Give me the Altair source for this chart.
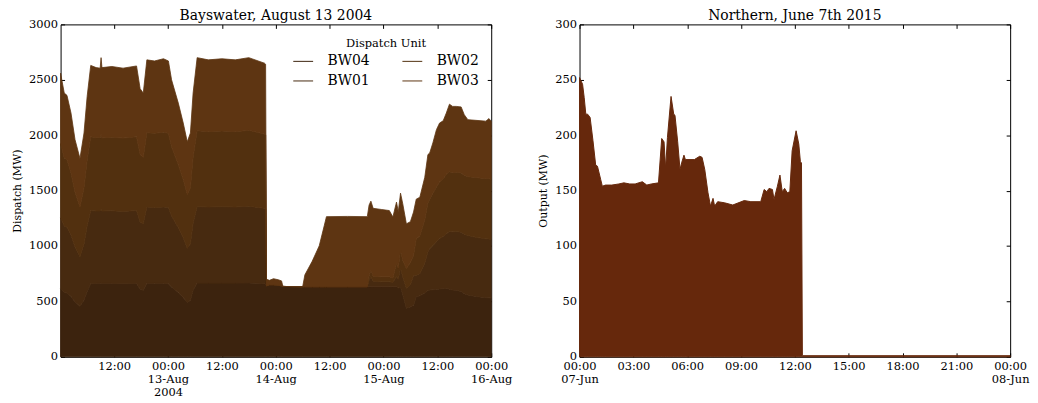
"""Bayswater dispatch and Northern output, two area panels side by side."""

from __future__ import annotations

import altair as alt
import pandas as pd

# Bayswater, hours after 2004-08-12 00:00
BAYSWATER_HOURS = [
    0.08, 0.9, 1.5, 2.4, 3.3, 4.4, 5.3, 6.0, 6.8, 8.0,
    8.9, 9.1, 9.3, 11.5, 14.0, 17.0, 17.8, 18.5, 19.3, 21.0,
    23.0, 24.1, 24.8, 26.3, 27.4, 28.3, 29.0, 29.6, 30.5, 33.0,
    36.0, 39.0, 42.0, 45.5, 45.75,
    45.95, 46.6, 47.5, 48.6, 49.3, 49.6, 54.0, 54.5, 56.1, 57.7,
    58.8, 59.3, 64.0, 68.4, 68.8, 69.2, 69.7, 71.5, 73.3, 74.1,
    74.9, 75.3, 75.8, 76.3, 77.1, 78.0, 78.7, 79.3, 80.1, 81.2,
    81.9, 82.3, 83.0, 83.8, 84.5, 85.3, 86.0, 86.7, 87.4, 88.2,
    89.3, 90.0, 90.8, 92.6, 94.8, 95.5, 96.0,
]
BW04 = [
    615, 580, 575, 545, 495, 456, 510, 590, 660, 662,
    662, 665, 662, 662, 660, 662, 610, 600, 662, 662,
    662, 660, 630, 580, 535, 490, 510, 600, 665, 665,
    665, 665, 667, 660, 655,
    640, 650, 650, 645, 640, 635, 632, 632, 632, 632,
    632, 632, 632, 632, 632, 632, 632, 632, 632, 632,
    632, 620, 630, 560, 439, 450, 466, 543, 550, 575,
    598, 603, 605, 608, 612, 615, 618, 610, 603, 600,
    590, 570, 558, 545, 534, 532, 530,
]
BW01 = [
    640, 600, 595, 555, 495, 448, 505, 590, 660, 654,
    654, 665, 654, 656, 652, 658, 605, 600, 690, 685,
    690, 688, 640, 585, 540, 490, 510, 605, 690, 687,
    690, 687, 692, 680, 680,
    0, 0, 0, 0, 0, 0, 0, 0, 0, 0,
    0, 0, 0, 0, 60, 90, 50, 45, 45, 40,
    90, 80, 170, 160, 180, 200, 268, 194, 200, 270,
    350, 373, 400, 430, 455, 470, 492, 520, 525, 530,
    535, 537, 537, 533, 531, 532, 530,
]
BW02 = [
    670, 615, 610, 560, 495, 448, 510, 595, 665, 662,
    662, 680, 660, 664, 662, 665, 610, 600, 671, 670,
    675, 670, 625, 570, 525, 485, 505, 595, 685, 680,
    683, 680, 685, 670, 668,
    0, 0, 0, 0, 0, 0, 0, 0, 0, 0,
    0, 0, 0, 0, 40, 60, 45, 45, 45, 40,
    120, 100, 160, 150, 178, 200, 180, 328, 340, 390,
    440, 447, 470, 495, 510, 520, 537, 540, 534, 535,
    535, 532, 531, 540, 543, 545, 540,
]
BW03 = [
    635, 585, 580, 540, 475, 438, 495, 575, 645, 632,
    627, 690, 634, 638, 631, 640, 595, 580, 657, 653,
    663, 652, 605, 555, 510, 475, 495, 580, 660, 648,
    652, 648, 656, 640, 637,
    60, 40, 55, 50, 45, 0, 0, 108, 228, 370,
    550, 633, 635, 633, 638, 623, 613, 608, 598, 550,
    554, 510, 517, 510, 403, 370, 393, 358, 350, 385,
    437, 417, 455, 517, 533, 525, 553, 610, 598, 595,
    595, 546, 514, 516, 519, 541, 525,
]
# bottom of the stack first; the legend fills column by column in this order
STACK_ORDER = ["BW04", "BW01", "BW02", "BW03"]
STACK_COLORS = ["#3c230e", "#472a10", "#52300f", "#5e3512"]

# Northern, hours after 2015-06-07 00:00
NORTHERN_HOURS = [
    0.0, 0.17, 0.26, 0.35, 0.45, 0.59, 0.75, 0.9, 1.0, 1.18,
    1.27, 1.45, 1.8, 2.19, 2.47, 2.8, 3.1, 3.5, 3.75, 4.0,
    4.4, 4.58, 4.71, 4.8, 4.9, 5.1, 5.25, 5.32, 5.47, 5.6,
    5.69, 5.82, 5.9, 6.4, 6.7, 6.83, 6.98, 7.16, 7.3, 7.44,
    7.53, 7.7, 8.08, 8.54, 9.18, 9.55, 10.1, 10.29, 10.44, 10.56,
    10.75, 10.84, 11.03, 11.17, 11.3, 11.43, 11.58, 11.72, 11.85, 12.07,
    12.22, 12.31, 12.37, 12.42, 24.0,
]
NORTHERN_MW = [
    252, 246, 234, 219, 219, 216, 195, 173, 172, 160,
    154, 155, 155, 156, 157, 156, 156, 158, 155, 156,
    157, 197, 194, 170, 198, 235, 219, 218, 194, 169,
    175, 182, 178, 178, 181, 180, 169, 148, 136, 143,
    136, 140, 139, 137, 141, 140, 140, 151, 149, 152,
    151, 142, 154, 164, 149, 152, 148, 149, 186, 204,
    192, 176, 175, 1, 1,
]
NORTHERN_COLOR = "#66280c"

FONT = "DejaVu Serif"
HOUR_MS = 3_600_000
TICK = 4
PANEL_W = 434
PANEL_H = 335


def _ms(start: str, hours: float) -> int:
    return pd.Timestamp(start, tz="UTC").value // 10**6 + round(hours * HOUR_MS)


def _bottom_axis(ticks: list[int], label_expr: str) -> alt.Axis:
    return alt.Axis(
        values=ticks, labelExpr=label_expr, tickSize=TICK, offset=-TICK, domain=False,
        labelPadding=4, labelBaseline="top", labelLineHeight=13, labelFlush=False,
        labelOverlap=False, grid=False, title=None,
    )


def _left_axis(ticks: list[int], title: str) -> alt.Axis:
    return alt.Axis(
        values=ticks, format="d", tickSize=TICK, offset=-TICK, domain=False,
        labelPadding=3, grid=False, title=title, titlePadding=6.5,
    )


def _mirror_ticks(frame: pd.DataFrame, x_scale: alt.Scale, y_scale: alt.Scale,
                  x_ticks: list[int], y_ticks: list[int]) -> alt.Chart:
    """Invisible layer that only carries the inward top and right ticks."""
    return alt.Chart(frame).mark_line(opacity=0).encode(
        x=alt.X("t:T", scale=x_scale, axis=alt.Axis(
            orient="top", values=x_ticks, labels=False, domain=False, grid=False,
            tickSize=TICK, offset=-TICK, minExtent=0, maxExtent=0, title=None)),
        y=alt.Y("mw:Q", scale=y_scale, axis=alt.Axis(
            orient="right", values=y_ticks, labels=False, domain=False, grid=False,
            tickSize=TICK, offset=-TICK, minExtent=0, maxExtent=0, title=None)),
    )


def bayswater_chart() -> alt.LayerChart:
    units = {"BW04": BW04, "BW01": BW01, "BW02": BW02, "BW03": BW03}
    rows = []
    for unit, values in units.items():
        for hours, mw in zip(BAYSWATER_HOURS, values):
            rows.append({"t": _ms("2004-08-12", hours), "mw": mw, "unit": unit,
                         "rank": STACK_ORDER.index(unit)})
    frame = pd.DataFrame(rows)

    x_scale = alt.Scale(type="utc", domain=[_ms("2004-08-12", 1 / 12), _ms("2004-08-12", 96)])
    y_scale = alt.Scale(domain=[0, 3000])
    x_ticks = [_ms("2004-08-12", h) for h in range(12, 97, 12)]
    y_ticks = list(range(0, 3001, 500))
    label_expr = (
        "utchours(datum.value) == 0 ? (utcdate(datum.value) == 13 ? "
        "[utcFormat(datum.value, '%H:%M'), utcFormat(datum.value, '%d-%b'), utcFormat(datum.value, '%Y')] : "
        "[utcFormat(datum.value, '%H:%M'), utcFormat(datum.value, '%d-%b')]) : "
        "utcFormat(datum.value, '%H:%M')"
    )
    color_scale = alt.Scale(domain=STACK_ORDER, range=STACK_COLORS)
    legend = alt.Legend(
        title="Dispatch Unit", orient="none", legendX=234, legendY=14, columns=2,
        symbolType="stroke", symbolSize=400, symbolStrokeWidth=1, labelOffset=14,
        columnPadding=30, rowPadding=2, titleAnchor="middle", titleFontSize=11.5,
        titleFontWeight="normal", titlePadding=1, labelFontSize=14,
    )

    area = alt.Chart(frame).mark_area(interpolate="linear", strokeWidth=0.8).encode(
        x=alt.X("t:T", scale=x_scale, axis=_bottom_axis(x_ticks, label_expr)),
        y=alt.Y("mw:Q", stack="zero", scale=y_scale, axis=_left_axis(y_ticks, "Dispatch (MW)")),
        fill=alt.Fill("unit:N", scale=color_scale, legend=legend),
        stroke=alt.Stroke("unit:N", scale=color_scale, legend=legend),
        order=alt.Order("rank:Q", sort="ascending"),
    )
    ticks = _mirror_ticks(frame, x_scale, y_scale, x_ticks, y_ticks)
    return (
        alt.layer(area, ticks)
        .resolve_scale(x="independent", y="independent")
        .properties(width=PANEL_W, height=PANEL_H,
                    title=alt.TitleParams("Bayswater, August 13 2004", offset=-5))
    )


def northern_chart() -> alt.LayerChart:
    frame = pd.DataFrame({
        "t": [_ms("2015-06-07", h) for h in NORTHERN_HOURS],
        "mw": NORTHERN_MW,
    })
    x_scale = alt.Scale(type="utc", domain=[_ms("2015-06-07", 0), _ms("2015-06-07", 24)])
    y_scale = alt.Scale(domain=[0, 300])
    x_ticks = [_ms("2015-06-07", h) for h in range(0, 25, 3)]
    y_ticks = list(range(0, 301, 50))
    label_expr = (
        "utchours(datum.value) == 0 ? "
        "[utcFormat(datum.value, '%H:%M'), utcFormat(datum.value, '%d-%b')] : "
        "utcFormat(datum.value, '%H:%M')"
    )
    area = alt.Chart(frame).mark_area(
        interpolate="linear", color=NORTHERN_COLOR, stroke=NORTHERN_COLOR, strokeWidth=1,
    ).encode(
        x=alt.X("t:T", scale=x_scale, axis=_bottom_axis(x_ticks, label_expr)),
        y=alt.Y("mw:Q", scale=y_scale, axis=_left_axis(y_ticks, "Output (MW)")),
    )
    ticks = _mirror_ticks(frame, x_scale, y_scale, x_ticks, y_ticks)
    return (
        alt.layer(area, ticks)
        .resolve_scale(x="independent", y="independent")
        .properties(width=PANEL_W, height=PANEL_H,
                    title=alt.TitleParams("Northern, June 7th 2015", offset=-5))
    )


chart = (
    alt.hconcat(bayswater_chart(), northern_chart(), spacing=24)
    .properties(padding={"left": 2, "top": -1, "right": 0, "bottom": 0})
    .configure(font=FONT)
    .configure_view(stroke="black", strokeWidth=1)
    .configure_axis(
        labelFont=FONT, labelFontSize=11.5, labelColor="black", titleFont=FONT,
        titleFontSize=11, titleFontWeight="normal", titleColor="black",
        tickColor="black", tickWidth=1, minExtent=0,
    )
    .configure_legend(labelFont=FONT, titleFont=FONT, labelColor="black", titleColor="black")
    .configure_title(font=FONT, fontSize=14, fontWeight="normal", color="black", anchor="middle")
)

chart.save("out.html", embed_options={"renderer": "svg", "actions": False})
